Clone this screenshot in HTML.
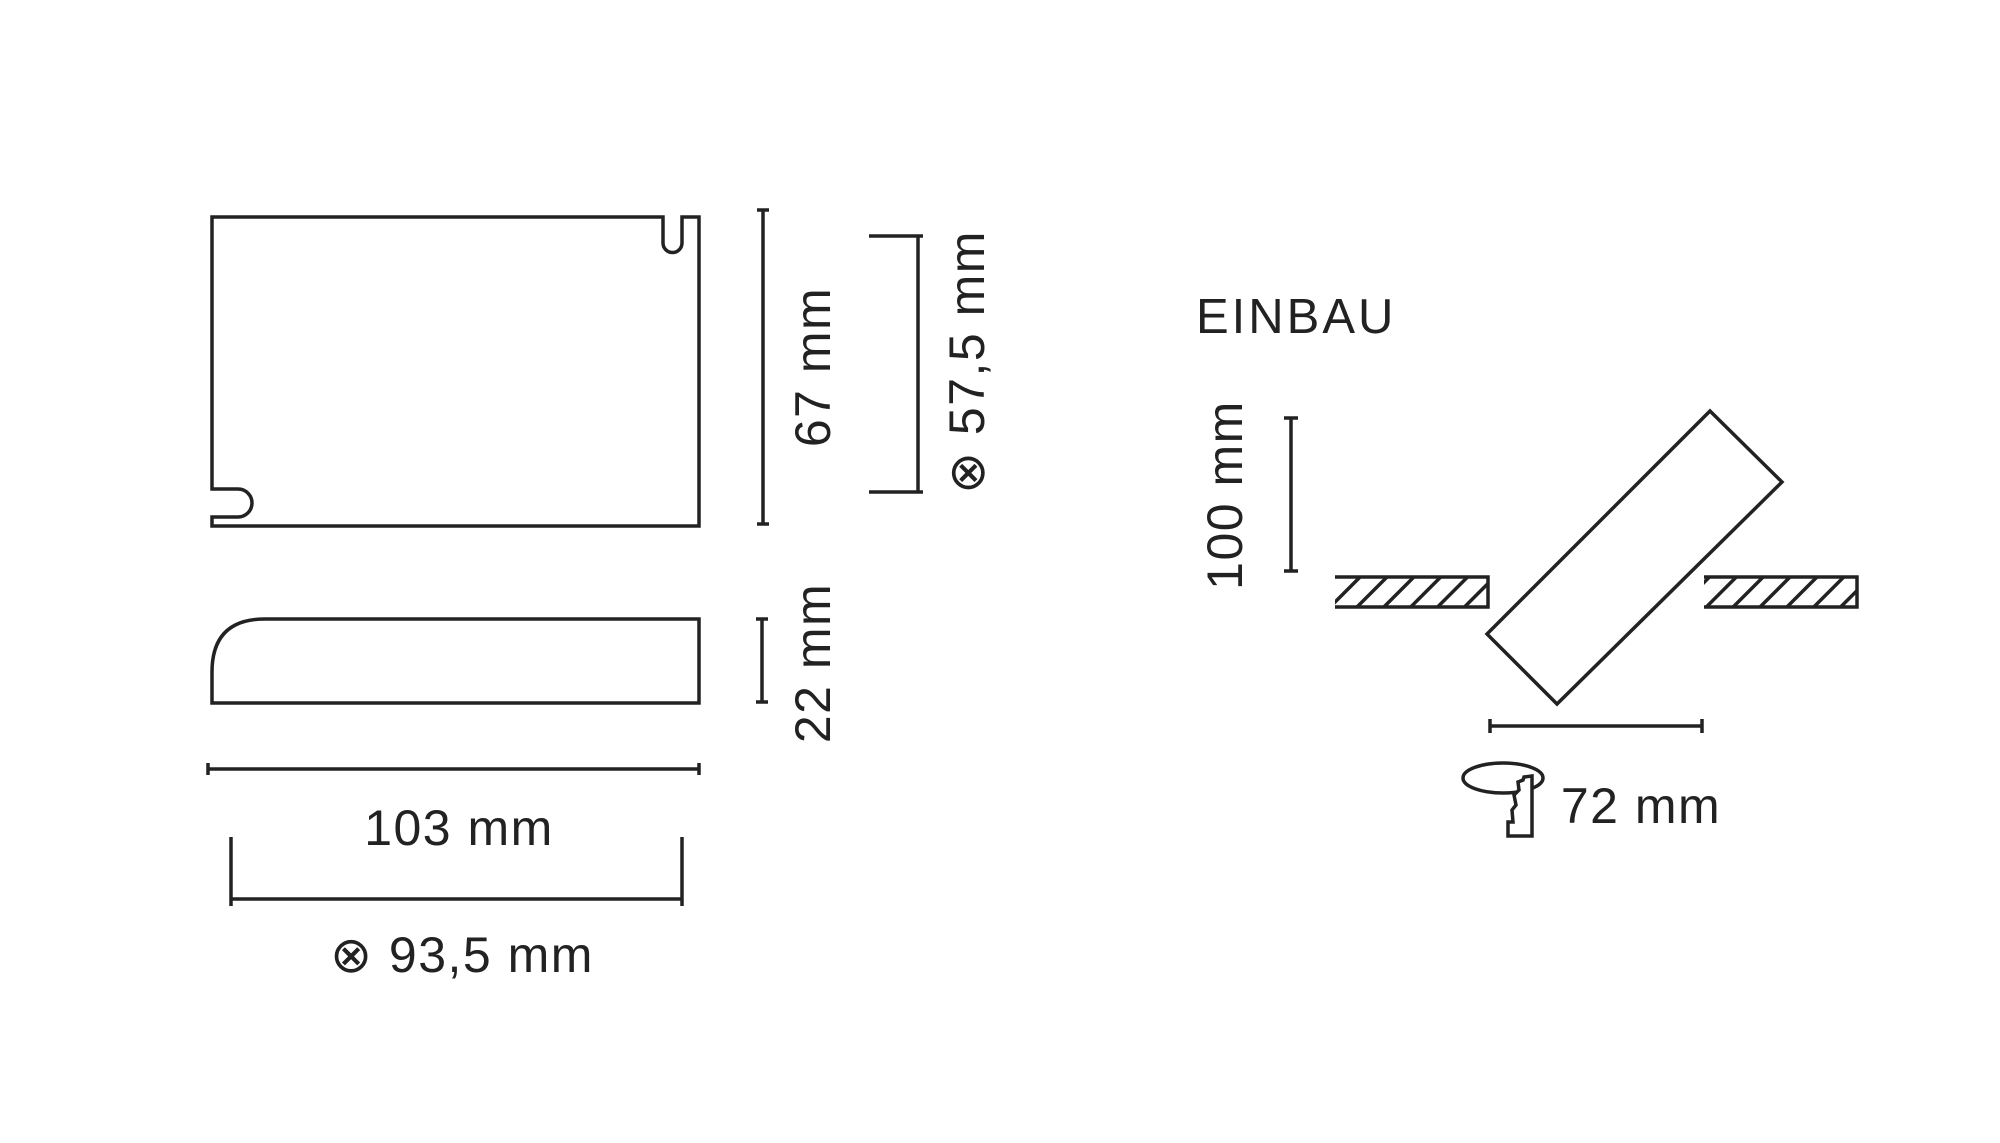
<!DOCTYPE html>
<html><head><meta charset="utf-8"><style>
html,body{margin:0;padding:0;background:#fff}
svg{display:block}
text{font-family:"Liberation Sans",sans-serif;fill:#222;font-size:50px;letter-spacing:1.5px}
</style></head><body>
<svg width="2000" height="1143" viewBox="0 0 2000 1143" xmlns="http://www.w3.org/2000/svg">
<defs>
<pattern id="h" width="19" height="19" patternUnits="userSpaceOnUse" patternTransform="rotate(45)">
<rect width="19" height="19" fill="#fff"/><line x1="0" y1="0" x2="0" y2="19" stroke="#222" stroke-width="7"/>
</pattern>
</defs>
<g fill="none" stroke="#222" stroke-width="3.5">
<path d="M212,217 L663,217 L663,243 A9.5,9.5 0 0 0 682,243 L682,217 L699,217 L699,526 L212,526 L212,517 L238,517 A14,14 0 0 0 238,489 L212,489 Z"/>
<path d="M763,210 V524 M757,210 H769 M757,524 H769"/>
<path d="M918,236 V492 M869,236 H923 M869,492 H923"/>
<path d="M212,703 L212,672 Q212,619 265,619 L699,619 L699,703 Z"/>
<path d="M762,619 V702 M756,619 H768 M756,702 H768"/>
<path d="M208,769 H699 M208,763 V775 M699,763 V775"/>
<path d="M231,899 H682 M231,837 V906 M682,837 V906"/>
<path d="M1291,418 V571 M1284,418 H1298 M1284,571 H1298"/>
<path d="M1710,411 L1782,482 L1557,704 L1487,634 Z"/>
<path d="M1490,726 H1702 M1490,719 V733 M1702,719 V733"/>
<ellipse cx="1503" cy="778" rx="40" ry="15"/>
</g>
<rect x="1335" y="576" width="154" height="32" fill="url(#h)"/>
<path d="M1335,577 H1488 V607 H1335" fill="none" stroke="#222" stroke-width="3.5"/>
<rect x="1704" y="576" width="154" height="32" fill="url(#h)"/>
<path d="M1704,577 H1857 V607 H1704" fill="none" stroke="#222" stroke-width="3.5"/>
<path d="M1524,777 L1532,776 V836 L1508,836 V822 L1513,822 L1512,810 L1516,805 L1514,795 L1519,790 L1518,782 L1523,780 Z" fill="#fff" stroke="#222" stroke-width="3.5"/>
<text x="1196" y="333" style="font-size:49px;letter-spacing:3px">EINBAU</text>
<text x="459" y="845" text-anchor="middle">103 mm</text>
<text x="462" y="972" text-anchor="middle">⊗ 93,5 mm</text>
<text x="1641" y="823" text-anchor="middle">72 mm</text>
<text transform="translate(830,367) rotate(-90)" text-anchor="middle">67 mm</text>
<text transform="translate(984,362) rotate(-90)" text-anchor="middle">⊗ 57,5 mm</text>
<text transform="translate(830,663) rotate(-90)" text-anchor="middle">22 mm</text>
<text transform="translate(1242,495) rotate(-90)" text-anchor="middle">100 mm</text>
</svg>
</body></html>
